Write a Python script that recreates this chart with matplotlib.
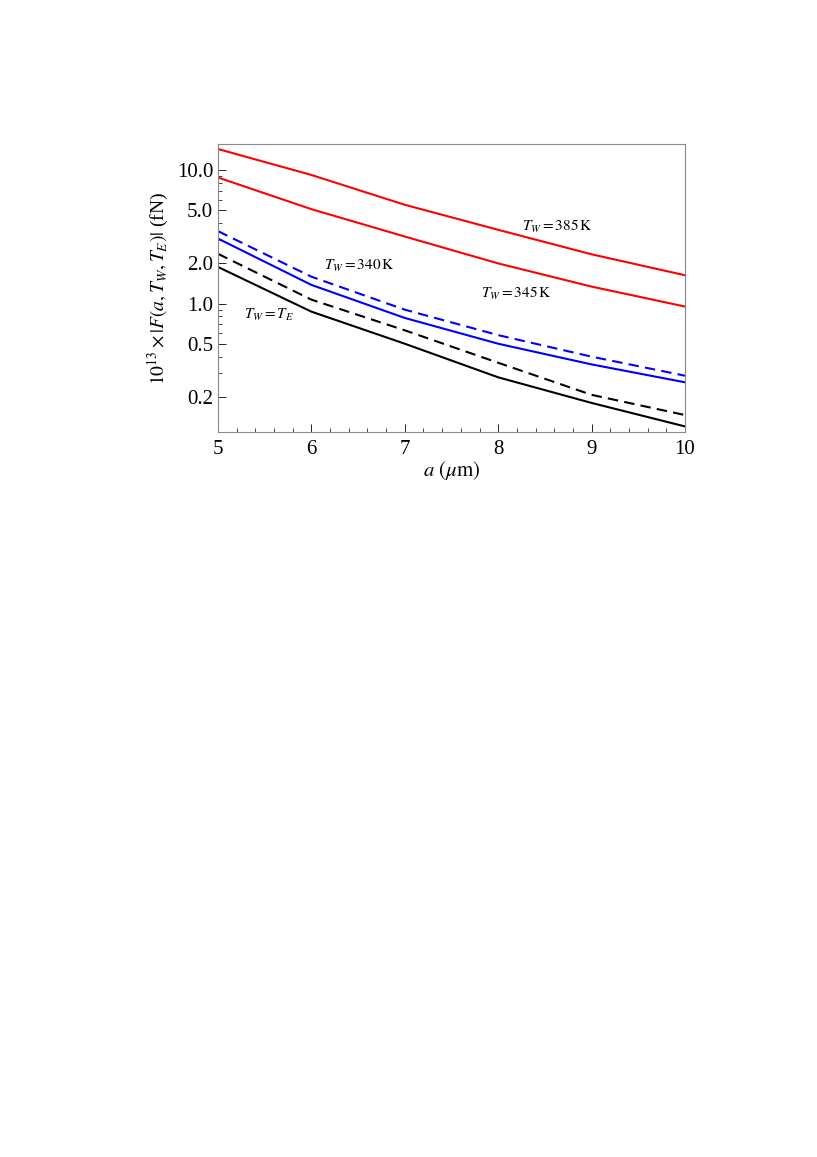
import matplotlib
matplotlib.use("Agg")
import matplotlib.pyplot as plt
from matplotlib.ticker import FixedLocator, MultipleLocator, NullFormatter, LogLocator

plt.rcParams["font.family"] = "Liberation Serif"
plt.rcParams["mathtext.fontset"] = "stix"

a = [5, 6, 7, 8, 9, 10]
f_385 = [14.4, 9.2, 5.5, 3.57, 2.34, 1.63]
f_345 = [8.81, 5.1, 3.18, 2.0, 1.34, 0.95]
f_340_dash = [3.49, 1.59, 0.90, 0.58, 0.40, 0.288]
f_340 = [3.07, 1.38, 0.78, 0.50, 0.35, 0.257]
f_eq_dash = [2.36, 1.07, 0.63, 0.36, 0.207, 0.146]
f_eq = [1.88, 0.87, 0.50, 0.28, 0.18, 0.12]

yticks = [0.2, 0.5, 1.0, 2.0, 5.0, 10.0]

fig = plt.figure(figsize=(8.17, 11.57), dpi=100)
ax = fig.add_axes([218 / 817, 1 - 432 / 1157, (685 - 218) / 817, (432 - 144) / 1157])

lw = 1.5
ax.plot(a, f_385, color="red", lw=lw)
ax.plot(a, f_345, color="red", lw=lw)
ax.plot(a, f_340_dash, color="blue", lw=lw, ls=(0, (5, 3)))
ax.plot(a, f_340, color="blue", lw=lw)
ax.plot(a, f_eq_dash, color="black", lw=lw, ls=(0, (5, 3)))
ax.plot(a, f_eq, color="black", lw=lw)

ax.set_yscale("log")
ax.set_xlim(5, 10)
ax.set_ylim(0.109, 15.7)
ax.yaxis.set_major_locator(FixedLocator(yticks))
ax.set_yticklabels([f"{v:.1f}" for v in yticks])
ax.yaxis.set_minor_locator(LogLocator(subs=range(1, 10)))
ax.yaxis.set_minor_formatter(NullFormatter())
ax.xaxis.set_major_locator(MultipleLocator(1))
ax.xaxis.set_minor_locator(MultipleLocator(0.2))
ax.tick_params(which="both", direction="in", labelsize=15)
ax.tick_params(which="major", length=6, width=0.6)
ax.tick_params(which="minor", length=3, width=0.5)
ax.tick_params(axis="x", pad=6)
for s in ax.spines.values():
    s.set_color("#888888")
    s.set_linewidth(0.8)

ax.set_xlabel(r"$a\ (\mu\mathrm{m})$", fontsize=15, labelpad=0)
ax.set_ylabel(r"$10^{13}\times|F(a,T_W,T_E)|$ (fN)", fontsize=14, labelpad=4)

kw = dict(fontsize=11, va="center", ha="left")
ax.text(8.26, 3.78, r"$T_W=385\,\mathrm{K}$", **kw)
ax.text(7.82, 1.20, r"$T_W=345\,\mathrm{K}$", **kw)
ax.text(6.14, 1.92, r"$T_W=340\,\mathrm{K}$", **kw)
ax.text(5.28, 0.82, r"$T_W=T_E$", **kw)

fig.savefig("out.png", dpi=100)
